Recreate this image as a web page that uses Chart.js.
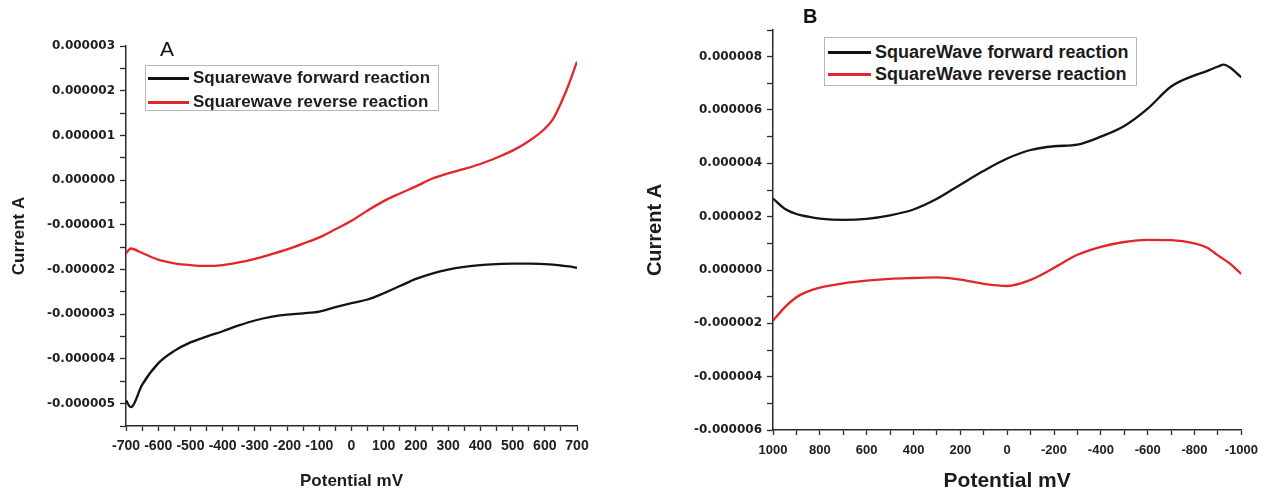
<!DOCTYPE html>
<html>
<head>
<meta charset="utf-8">
<script src="https://cdn.jsdelivr.net/npm/chart.js@4.4.1/dist/chart.umd.min.js"></script>
<style>
    html, body { margin: 0; padding: 0; background: #fff; }
    body { width: 1266px; height: 492px; position: relative; overflow: hidden; font-family: "Liberation Sans", Arial, sans-serif; }
    canvas { position: absolute; top: 0; }
    #chartA { left: 0; }
    #chartB { left: 630px; }
    .panel-label { position: absolute; color: #111; line-height: 24px; }
    .legend { position: absolute; border: 1px solid #b8b8b8; background: #fff; box-sizing: border-box; }
    .legend .row { position: absolute; left: 0; height: 22px; line-height: 22px; white-space: nowrap; }
    .legend i { position: absolute; top: 10px; height: 2.5px; }
    .legend b { position: absolute; top: 0; color: #1c1c1c; }
</style>
</head>
<body>
<canvas id="chartA" width="630" height="492"></canvas>
<canvas id="chartB" width="636" height="492"></canvas>

<div class="panel-label" style="left:160px;top:37px;font-size:21px;">A</div>
<div class="panel-label" style="left:803px;top:4px;font-size:20px;font-weight:bold;">B</div>

<div class="legend" style="left:145px;top:65px;width:294px;height:46px;font-size:17px;">
    <div class="row" style="top:1px"><i style="left:2px;width:41px;background:#111"></i><b style="left:47px">Squarewave forward reaction</b></div>
    <div class="row" style="top:25px"><i style="left:2px;width:41px;background:#e3262b"></i><b style="left:47px">Squarewave reverse reaction</b></div>
</div>
<div class="legend" style="left:824px;top:37px;width:313px;height:49px;font-size:18px;">
    <div class="row" style="top:3px"><i style="left:3px;width:43px;background:#111"></i><b style="left:50px">SquareWave forward reaction</b></div>
    <div class="row" style="top:25px"><i style="left:3px;width:43px;background:#e3262b"></i><b style="left:50px">SquareWave reverse reaction</b></div>
</div>

<script>
// Panel A - potential in mV, current in µA (axis labels shown in A)
const aPotential = [-700, -685, -650, -600, -550, -500, -450, -400, -350, -300, -250, -200, -150, -100, -50, 0,
    50, 100, 150, 200, 250, 300, 350, 400, 450, 500, 550, 600, 625, 650, 675, 700];
const aForward = [-4.93, -5.08, -4.58, -4.10, -3.82, -3.63, -3.50, -3.38, -3.25, -3.14, -3.06, -3.01, -2.98, -2.94, -2.84, -2.75,
    -2.67, -2.53, -2.37, -2.21, -2.09, -2.00, -1.94, -1.90, -1.88, -1.87, -1.87, -1.88, -1.89, -1.91, -1.93, -1.96];
const aReverse = [-1.64, -1.53, -1.63, -1.78, -1.86, -1.90, -1.92, -1.90, -1.84, -1.76, -1.66, -1.55, -1.42, -1.28, -1.10, -0.91,
    -0.68, -0.47, -0.30, -0.14, 0.03, 0.15, 0.25, 0.36, 0.50, 0.66, 0.87, 1.15, 1.36, 1.72, 2.15, 2.65];
const aXLabels = [-700, -600, -500, -400, -300, -200, -100, 0, 100, 200, 300, 400, 500, 600, 700];
const aYLabels = [3, 2, 1, 0, -1, -2, -3, -4, -5];

// Panel B - potential swept from 1000 to -1000 mV
const bPotential = [1000, 950, 900, 850, 800, 700, 600, 500, 400, 300, 200, 100, 0,
    -100, -200, -300, -400, -500, -600, -700, -800, -850, -900, -925, -950, -1000];
const bForward = [2.68, 2.30, 2.10, 2.00, 1.93, 1.88, 1.92, 2.05, 2.27, 2.67, 3.20, 3.72, 4.18,
    4.50, 4.64, 4.70, 5.00, 5.40, 6.05, 6.88, 7.30, 7.45, 7.63, 7.70, 7.60, 7.22];
const bReverse = [-1.90, -1.40, -1.02, -0.80, -0.66, -0.50, -0.40, -0.33, -0.30, -0.28, -0.36, -0.52, -0.60,
    -0.37, 0.08, 0.57, 0.87, 1.05, 1.13, 1.12, 1.00, 0.85, 0.55, 0.40, 0.25, -0.15];
const bXLabels = [1000, 800, 600, 400, 200, 0, -200, -400, -600, -800, -1000];
const bYLabels = [8, 6, 4, 2, 0, -2, -4, -6];

const BLACK = "#141414";
const RED = "#e3262b";
const AXIS = "#2a2a2a";

function points(xs, ys) {
    return xs.map((x, i) => ({ x: x, y: ys[i] }));
}

function hasLabel(list, v) {
    return list.some(t => Math.abs(t - v) < 1e-6);
}

function lineSet(label, xs, ys, color) {
    return {
        label: label,
        data: points(xs, ys),
        borderColor: color,
        borderWidth: 2.3,
        pointRadius: 0,
        cubicInterpolationMode: "monotone",
        fill: false
    };
}

function makeChart(id, cfg) {
    const ctx = document.getElementById(id).getContext("2d");
    return new Chart(ctx, {
        type: "line",
        data: { datasets: cfg.datasets },
        options: {
            responsive: false,
            animation: false,
            layout: { padding: cfg.padding },
            plugins: { legend: { display: false }, tooltip: { enabled: false } },
            scales: {
                x: {
                    type: "linear",
                    min: cfg.xMin, max: cfg.xMax, reverse: cfg.reverse,
                    afterFit: s => { s.height = cfg.xHeight; },
                    border: { display: true, color: AXIS, width: 1.5 },
                    grid: { drawOnChartArea: false, tickLength: 5, tickColor: AXIS, tickWidth: 1.3 },
                    ticks: {
                        stepSize: cfg.xStep, autoSkip: false, maxRotation: 0, padding: cfg.xPad,
                        color: "#202020",
                        font: { family: "Liberation Sans", weight: "bold", size: cfg.xFont },
                        callback: v => hasLabel(cfg.xLabels, v) ? String(v) : ""
                    },
                    title: {
                        display: true, text: "Potential mV", color: "#1c1c1c",
                        font: { family: "Liberation Sans", weight: "bold", size: cfg.titleFont, lineHeight: 1 },
                        padding: { top: 0, bottom: cfg.xTitlePad }
                    }
                },
                y: {
                    type: "linear",
                    min: cfg.yMin, max: cfg.yMax,
                    afterFit: s => { s.width = cfg.yWidth; },
                    border: { display: true, color: AXIS, width: 1.5 },
                    grid: { drawOnChartArea: false, tickLength: 6, tickColor: AXIS, tickWidth: 1.3 },
                    ticks: {
                        stepSize: cfg.yStep, autoSkip: false, padding: 5,
                        color: "#202020",
                        font: { family: "DejaVu Sans", weight: "bold", size: 12 },
                        callback: v => hasLabel(cfg.yLabels, v) ? (v * 1e-6).toFixed(6) : ""
                    },
                    title: {
                        display: true, text: "Current A", color: "#1c1c1c",
                        font: { family: "Liberation Sans", weight: "bold", size: cfg.yTitleFont, lineHeight: 1 },
                        padding: { top: cfg.yTitlePad, bottom: 0 }
                    }
                }
            }
        }
    });
}

makeChart("chartA", {
    datasets: [
        lineSet("Squarewave forward reaction", aPotential, aForward, BLACK),
        lineSet("Squarewave reverse reaction", aPotential, aReverse, RED)
    ],
    padding: { left: 0, right: 53, top: 46, bottom: 0 },
    xMin: -700, xMax: 700, xStep: 50, reverse: false, xLabels: aXLabels,
    xHeight: 66, xPad: 7, xFont: 14, titleFont: 17, xTitlePad: 2,
    yMin: -5.5, yMax: 3, yStep: 0.5, yLabels: aYLabels,
    yWidth: 126, yTitleFont: 17, yTitlePad: 11
});

makeChart("chartB", {
    datasets: [
        lineSet("SquareWave forward reaction", bPotential, bForward, BLACK),
        lineSet("SquareWave reverse reaction", bPotential, bReverse, RED)
    ],
    padding: { left: 0, right: 17, top: 30, bottom: 0 },
    xMin: -1000, xMax: 1000, xStep: 100, reverse: true, xLabels: bXLabels,
    xHeight: 62, xPad: 8, xFont: 13, titleFont: 21, xTitlePad: 0,
    yMin: -6, yMax: 9, yStep: 1, yLabels: bYLabels,
    yWidth: 143, yTitleFont: 20, yTitlePad: 15
});
</script>
</body>
</html>
